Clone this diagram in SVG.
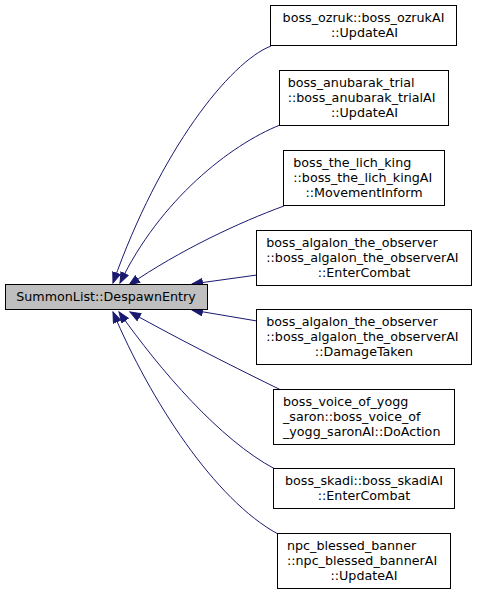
<svg xmlns="http://www.w3.org/2000/svg" width="477" height="595" viewBox="0 0 477 595">
<defs>
<style>
.n{fill:#ffffff;stroke:#000000;stroke-width:1}
.m{fill:#bfbfbf;stroke:#000000;stroke-width:1}
text{font-family:"DejaVu Sans","Liberation Sans",sans-serif;font-size:12.7px;fill:#000000}
.c{text-anchor:middle}
.e{fill:none;stroke:#191970;stroke-width:1}
</style>
<marker id="ah" markerUnits="userSpaceOnUse" markerWidth="12" markerHeight="10" refX="11" refY="4.5" orient="auto">
<path d="M0.5,0.5 L11,4.5 L0.5,8.5 z" fill="#191970" stroke="#191970" stroke-width="1"/>
</marker>
</defs>
<rect width="477" height="595" fill="#ffffff"/>
<g id="edges">
<path class="e" marker-end="url(#ah)" d="M271,46 C230,62 160,150 113,283"/>
<path class="e" marker-end="url(#ah)" d="M280,125 C230,145 160,200 120,283"/>
<path class="e" marker-end="url(#ah)" d="M284,206 C240,222 180,250 129,285"/>
<path class="e" marker-end="url(#ah)" d="M257,275 L192,284"/>
<path class="e" marker-end="url(#ah)" d="M257,321 L192,310"/>
<path class="e" marker-end="url(#ah)" d="M281,390 C240,370 180,340 130,312"/>
<path class="e" marker-end="url(#ah)" d="M275,469 C220,440 160,370 119,312"/>
<path class="e" marker-end="url(#ah)" d="M278,534 C215,500 150,400 113,312"/>
</g>
<g id="main">
<rect class="m" x="5.5" y="284.5" width="202" height="25"/>
<text class="c" x="106" y="300.5">SummonList::DespawnEntry</text>
</g>
<g id="n1">
<rect class="n" x="270.5" y="5.5" width="186" height="40"/>
<text class="c" x="363.5" y="21.5">boss_ozruk::boss_ozrukAI</text>
<text class="c" x="364.5" y="36.5">::UpdateAI</text>
</g>
<g id="n2">
<rect class="n" x="279.5" y="70.5" width="169" height="55"/>
<text x="287.7" y="86.5">boss_anubarak_trial</text>
<text x="287.7" y="101.5">::boss_anubarak_trialAI</text>
<text class="c" x="364.5" y="116.5">::UpdateAI</text>
</g>
<g id="n3">
<rect class="n" x="283.5" y="150.5" width="161" height="55"/>
<text x="293.3" y="166.5">boss_the_lich_king</text>
<text x="293.3" y="181.5">::boss_the_lich_kingAI</text>
<text class="c" x="364" y="196.5">::MovementInform</text>
</g>
<g id="n4">
<rect class="n" x="256.5" y="230.5" width="215" height="55"/>
<text x="266.3" y="246.5">boss_algalon_the_observer</text>
<text x="266.3" y="261.5">::boss_algalon_the_observerAI</text>
<text class="c" x="364" y="276.5">::EnterCombat</text>
</g>
<g id="n5">
<rect class="n" x="256.5" y="309.5" width="215" height="55"/>
<text x="266.3" y="325.5">boss_algalon_the_observer</text>
<text x="266.3" y="340.5">::boss_algalon_the_observerAI</text>
<text class="c" x="364" y="355.5">::DamageTaken</text>
</g>
<g id="n6">
<rect class="n" x="273.5" y="389.5" width="181" height="55"/>
<text x="283" y="405.5">boss_voice_of_yogg</text>
<text x="283" y="420.5">_saron::boss_voice_of</text>
<text x="283" y="435.5">_yogg_saronAI::DoAction</text>
</g>
<g id="n7">
<rect class="n" x="273.5" y="468.5" width="181" height="40"/>
<text class="c" x="364" y="484.5">boss_skadi::boss_skadiAI</text>
<text class="c" x="364" y="499.5">::EnterCombat</text>
</g>
<g id="n8">
<rect class="n" x="277.5" y="533.5" width="173" height="55"/>
<text x="287" y="549.5">npc_blessed_banner</text>
<text x="287" y="564.5">::npc_blessed_bannerAI</text>
<text class="c" x="364" y="579.5">::UpdateAI</text>
</g>
</svg>
